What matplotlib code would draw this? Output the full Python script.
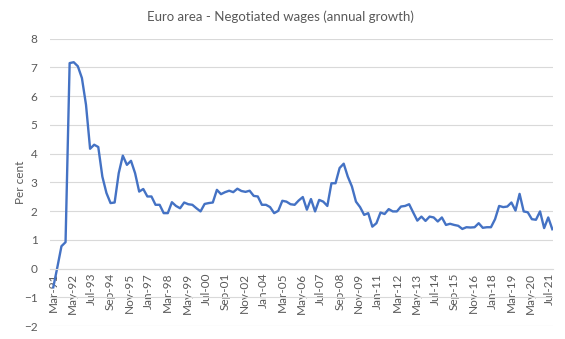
"""
Euro area negotiated wages, annual growth (quarterly, Mar-91 to Sep-21).
"""

import matplotlib
matplotlib.use('Agg')
import matplotlib.pyplot as plt
import numpy as np


# quarterly values, per cent, starting Mar-91
wages = [
    -0.65, 0.05, 0.78, 0.92, 7.15, 7.18, 7.04, 6.63, 5.70, 4.17,
    4.31, 4.23, 3.20, 2.63, 2.28, 2.30, 3.32, 3.93, 3.61, 3.75,
    3.32, 2.68, 2.77, 2.51, 2.51, 2.22, 2.22, 1.93, 1.93, 2.31,
    2.18, 2.10, 2.30, 2.24, 2.22, 2.10, 1.99, 2.25, 2.28, 2.30,
    2.74, 2.59, 2.66, 2.71, 2.66, 2.78, 2.70, 2.67, 2.71, 2.53,
    2.51, 2.22, 2.22, 2.14, 1.93, 2.01, 2.36, 2.33, 2.24, 2.22,
    2.37, 2.49, 2.05, 2.42, 1.99, 2.39, 2.33, 2.18, 2.97, 2.97,
    3.50, 3.65, 3.20, 2.86, 2.33, 2.14, 1.87, 1.93, 1.46, 1.58,
    1.95, 1.90, 2.07, 1.99, 1.99, 2.16, 2.18, 2.24, 1.95, 1.67,
    1.81, 1.66, 1.81, 1.78, 1.64, 1.78, 1.52, 1.56, 1.52, 1.49,
    1.38, 1.44, 1.43, 1.44, 1.58, 1.42, 1.44, 1.44, 1.72, 2.18,
    2.14, 2.16, 2.30, 2.02, 2.60, 1.99, 1.96, 1.72, 1.70, 1.99,
    1.41, 1.78, 1.37,
]

tick_labels = [
    'Mar-91', 'May-92', 'Jul-93', 'Sep-94', 'Nov-95', 'Jan-97', 'Mar-98',
    'May-99', 'Jul-00', 'Sep-01', 'Nov-02', 'Jan-04', 'Mar-05', 'May-06',
    'Jul-07', 'Sep-08', 'Nov-09', 'Jan-11', 'Mar-12', 'May-13', 'Jul-14',
    'Sep-15', 'Nov-16', 'Jan-18', 'Mar-19', 'May-20', 'Jul-21',
]
TICK_STEP = 14  # months between labels

GREY = '#595959'
GRID = '#d9d9d9'
BLUE = '#4472c4'

plt.rcParams['font.family'] = ['Lato', 'DejaVu Sans']

months = np.arange(len(wages)) * 3
ticks = np.arange(len(tick_labels)) * TICK_STEP

fig = plt.figure(figsize=(5.65, 3.39), dpi=100)
ax = fig.add_axes([0.0885, 0.038, 0.8905, 0.848])

ax.plot(months, wages, color=BLUE, lw=1.7, solid_joinstyle='round')

ax.set_xlim(-2.4, 366.6)
ax.set_ylim(-2, 8)
ax.set_yticks(range(-2, 9))
ax.grid(axis='y', color=GRID, lw=0.8)
ax.set_axisbelow(True)

for side in ['top', 'right', 'left']:
    ax.spines[side].set_visible(False)
ax.spines['bottom'].set_position(('data', 0))
ax.spines['bottom'].set_color(GRID)
ax.spines['bottom'].set_linewidth(0.8)

ax.set_xticks(ticks)
ax.set_xticklabels(tick_labels, rotation=90)
ax.tick_params(axis='x', length=0, pad=3, labelsize=8.5, labelcolor=GREY)
ax.tick_params(axis='y', length=0, pad=9, labelsize=8.5, labelcolor=GREY)

ax.set_ylabel('Per cent', fontsize=8.5, color=GREY)
ax.yaxis.set_label_coords(-0.047, 0.5)
fig.text(0.497, 0.95, 'Euro area - Negotiated wages (annual growth)',
         ha='center', va='center', fontsize=9.5, color=GREY)

fig.savefig('out.png', dpi=100)
